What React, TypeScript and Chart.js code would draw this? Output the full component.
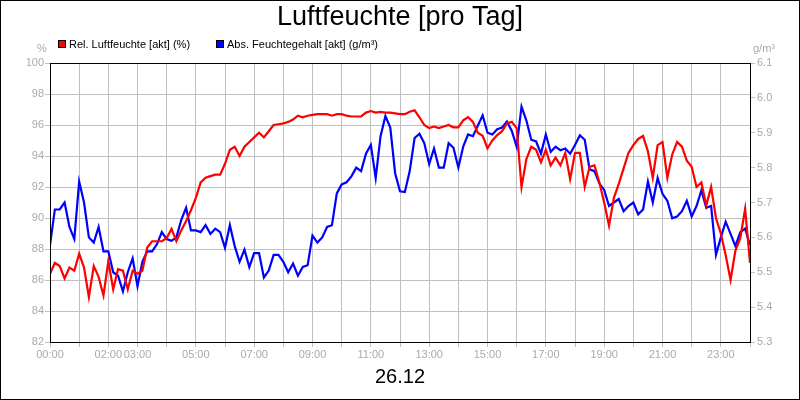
import { useEffect, useRef } from 'react';
import { Chart, registerables } from 'chart.js';

Chart.register(...registerables);

const TITLE = 'Luftfeuchte [pro Tag]';
const DAY = '26.12';

// 10-minute readings from 00:00 to 24:00
const REL_HUMIDITY = [
  86.4, 87.1, 86.9, 86.1, 86.8, 86.6, 87.7, 86.8, 84.9, 86.9, 86.2, 85.0,
  87.2, 85.4, 86.7, 86.6, 85.4, 86.6, 86.4, 86.6, 88.1, 88.5, 88.5, 88.5,
  88.7, 89.3, 88.5, 89.2, 89.8, 90.5, 91.3, 92.3, 92.6, 92.7, 92.8, 92.8,
  93.5, 94.4, 94.6, 94.0, 94.6, 94.9, 95.2, 95.5, 95.2, 95.6, 96.0, 96.05,
  96.1, 96.2, 96.35, 96.6, 96.5, 96.6, 96.65, 96.7, 96.7, 96.7, 96.6, 96.7,
  96.7, 96.6, 96.55, 96.55, 96.55, 96.8, 96.9, 96.8, 96.85, 96.8, 96.8, 96.75,
  96.7, 96.7, 96.85, 96.95, 96.5, 96.0, 95.8, 95.9, 95.8, 95.9, 96.0, 95.85,
  95.85, 96.3, 96.5, 96.2, 95.5, 95.3, 94.5, 95.0, 95.35, 95.6, 96.1, 96.2,
  95.8, 92.0, 93.8, 94.6, 94.4, 93.6, 94.4, 93.4, 93.9, 93.4, 94.2, 92.5,
  94.2, 94.2, 92.0, 93.3, 93.4, 92.3, 91.0, 89.5, 91.3, 92.2, 93.2, 94.2,
  94.7, 95.1, 95.3, 94.3, 92.6, 94.7, 94.9, 92.6, 94.1, 94.9, 94.6, 93.7,
  93.3, 92.0, 92.3, 90.8, 92.0, 90.0, 89.0, 87.6, 86.0, 87.9, 88.7, 90.6,
  87.1,
];

const ABS_HUMIDITY = [
  5.578, 5.68, 5.68, 5.7, 5.63, 5.595, 5.76, 5.7, 5.6, 5.585, 5.63, 5.56,
  5.56, 5.5, 5.49, 5.445, 5.5, 5.54, 5.46, 5.53, 5.56, 5.56, 5.58, 5.615,
  5.595, 5.59, 5.6, 5.65, 5.685, 5.62, 5.62, 5.615, 5.635, 5.61, 5.625, 5.615,
  5.57, 5.635, 5.575, 5.53, 5.565, 5.515, 5.555, 5.555, 5.485, 5.505, 5.55, 5.55,
  5.53, 5.5, 5.525, 5.49, 5.515, 5.52, 5.605, 5.585, 5.6, 5.63, 5.635, 5.726,
  5.752, 5.758, 5.775, 5.8, 5.79, 5.84, 5.865, 5.77, 5.89, 5.948, 5.915, 5.784,
  5.732, 5.73, 5.79, 5.885, 5.897, 5.87, 5.81, 5.855, 5.8, 5.8, 5.87, 5.857,
  5.8, 5.86, 5.895, 5.89, 5.92, 5.95, 5.9, 5.895, 5.91, 5.915, 5.932, 5.905,
  5.86, 5.975, 5.935, 5.88, 5.875, 5.84, 5.895, 5.845, 5.86, 5.85, 5.855, 5.84,
  5.865, 5.893, 5.88, 5.795, 5.79, 5.755, 5.736, 5.69, 5.7, 5.71, 5.675, 5.69,
  5.7, 5.666, 5.68, 5.76, 5.7, 5.77, 5.725, 5.705, 5.655, 5.66, 5.675, 5.705,
  5.66, 5.69, 5.735, 5.685, 5.69, 5.55, 5.6, 5.645, 5.61, 5.575, 5.615, 5.625,
  5.578,
];

const HOUR_LABELS = [
  '00:00', '02:00', '03:00', '05:00', '07:00', '09:00', '11:00',
  '13:00', '15:00', '17:00', '19:00', '21:00', '23:00',
];

const GRID = '#c0c0c0';
const TICK_TEXT = '#aaaaaa';
const FONT = '"Liberation Sans", Arial, sans-serif';

const frame = {
  id: 'frame',
  afterDraw(chart: Chart) {
    const { ctx, chartArea: a } = chart;
    ctx.save();
    ctx.strokeStyle = '#000';
    ctx.lineWidth = 1;
    ctx.strokeRect(Math.round(a.left) + 0.5, Math.round(a.top) + 0.5,
      Math.round(a.right - a.left), Math.round(a.bottom - a.top));
    ctx.strokeRect(0.5, 0.5, 799, 399);

    ctx.fillStyle = '#000';
    ctx.textAlign = 'center';
    ctx.textBaseline = 'middle';
    ctx.font = `27px ${FONT}`;
    ctx.fillText(TITLE, 400, 18);
    ctx.font = `20px ${FONT}`;
    ctx.fillText(DAY, 400, 377);

    // legend
    ctx.font = `11px ${FONT}`;
    ctx.textAlign = 'left';
    const items = [
      { x: 58, color: '#ff0000', text: 'Rel. Luftfeuchte [akt] (%)' },
      { x: 216, color: '#0000ff', text: 'Abs. Feuchtegehalt [akt] (g/m³)' },
    ];
    for (const it of items) {
      ctx.fillStyle = it.color;
      ctx.fillRect(it.x, 40, 8, 8);
      ctx.strokeStyle = '#000';
      ctx.strokeRect(it.x + 0.5, 40.5, 7, 7);
      ctx.fillStyle = '#000';
      ctx.fillText(it.text, it.x + 11, 45);
    }

    ctx.fillStyle = TICK_TEXT;
    ctx.textAlign = 'center';
    ctx.fillText('%', 42, 49);
    ctx.fillText('g/m³', 764, 49);
    ctx.restore();
  },
};

export default function App() {
  const canvasRef = useRef<HTMLCanvasElement>(null);

  useEffect(() => {
    document.body.style.margin = '0';
    if (!canvasRef.current) return;

    const hours = REL_HUMIDITY.map((_, i) => i / 6);

    const chart = new Chart(canvasRef.current, {
      type: 'line',
      data: {
        datasets: [
          {
            label: 'Rel. Luftfeuchte [akt] (%)',
            data: hours.map((h, i) => ({ x: h, y: REL_HUMIDITY[i] })),
            borderColor: '#ff0000',
            borderWidth: 2.2,
            pointRadius: 0,
            tension: 0,
            yAxisID: 'y',
          },
          {
            label: 'Abs. Feuchtegehalt [akt] (g/m³)',
            data: hours.map((h, i) => ({ x: h, y: ABS_HUMIDITY[i] })),
            borderColor: '#0000ff',
            borderWidth: 2.2,
            pointRadius: 0,
            tension: 0,
            yAxisID: 'y1',
          },
        ],
      },
      options: {
        responsive: false,
        animation: false,
        devicePixelRatio: 1,
        layout: { padding: { top: 63, left: 0, right: 0, bottom: 0 } },
        plugins: {
          legend: { display: false },
          title: { display: false },
          tooltip: { enabled: false },
        },
        scales: {
          x: {
            type: 'linear',
            min: 0,
            max: 24,
            border: { display: false },
            grid: { color: GRID, tickLength: 5, tickColor: GRID },
            ticks: {
              stepSize: 1,
              autoSkip: false,
              maxRotation: 0,
              padding: 1,
              color: TICK_TEXT,
              font: { family: FONT, size: 11 },
              callback: (v) => {
                const label = String(v).padStart(2, '0') + ':00';
                return HOUR_LABELS.includes(label) ? label : '';
              },
            },
            afterFit: (s) => { s.height = 58; },
          },
          y: {
            position: 'left',
            min: 82,
            max: 100,
            border: { display: false },
            grid: { color: GRID, tickLength: 5, tickColor: GRID },
            ticks: {
              stepSize: 2,
              padding: 1,
              color: TICK_TEXT,
              font: { family: FONT, size: 11 },
            },
            afterFit: (s) => { s.width = 50; },
          },
          y1: {
            position: 'right',
            min: 5.3,
            max: 6.1,
            border: { display: false },
            grid: { drawOnChartArea: false, tickLength: 5, tickColor: GRID },
            ticks: {
              stepSize: 0.1,
              padding: 2,
              color: TICK_TEXT,
              font: { family: FONT, size: 11 },
              callback: (v) => Number(v).toFixed(1),
            },
            afterFit: (s) => { s.width = 50; },
          },
        },
      },
      plugins: [frame],
    });

    return () => chart.destroy();
  }, []);

  return (
    <div style={{ width: 800, height: 400, background: '#fff' }}>
      <canvas ref={canvasRef} width={800} height={400}></canvas>
    </div>
  );
}
